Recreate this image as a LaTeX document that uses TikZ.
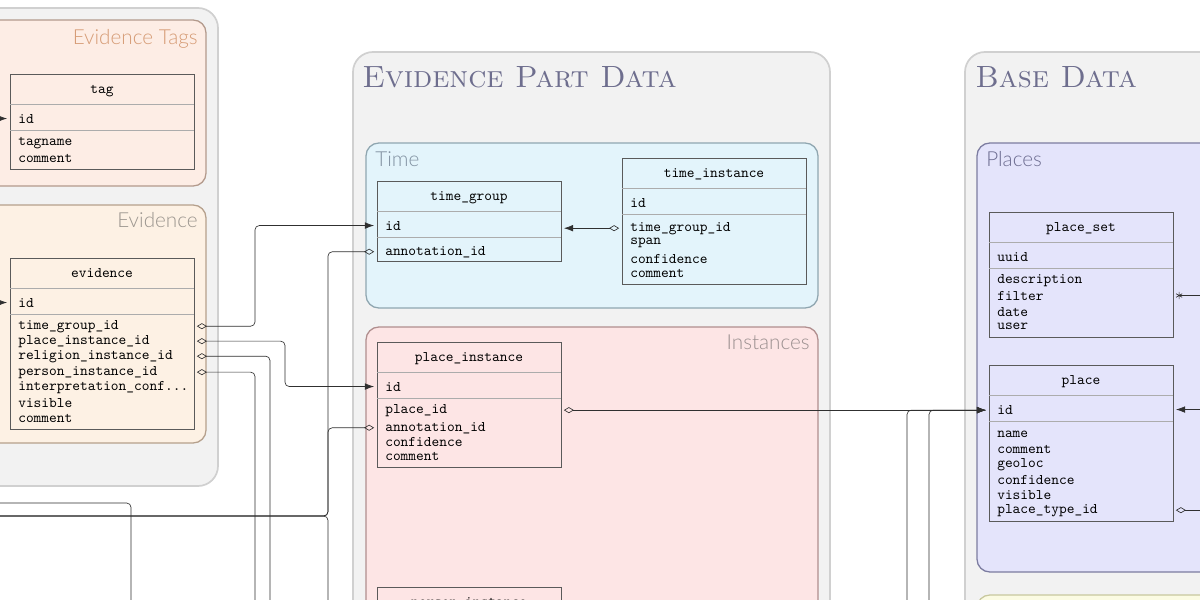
\documentclass[tikz,border=0pt]{standalone}
\usepackage{fontspec}
\newfontfamily\titlefont{Lato Light}
\usetikzlibrary{arrows.meta}
\definecolor{grpfill}{HTML}{F2F2F2}
\definecolor{grpline}{HTML}{D0D0D0}
\definecolor{tagfill}{HTML}{FDEDE5}
\definecolor{tagline}{HTML}{B39A8C}
\definecolor{evfill}{HTML}{FDF1E4}
\definecolor{evline}{HTML}{B5A08C}
\definecolor{timefill}{HTML}{E3F4FB}
\definecolor{timeline}{HTML}{8FA6B0}
\definecolor{instfill}{HTML}{FDE5E5}
\definecolor{instline}{HTML}{B08E8E}
\definecolor{placefill}{HTML}{E4E4FB}
\definecolor{placeline}{HTML}{7C7CA0}
\definecolor{yelfill}{HTML}{FBFBE3}
\definecolor{yelline}{HTML}{C8C89E}
\definecolor{tagtitle}{HTML}{D69C76}
\definecolor{evtitle}{HTML}{9C968F}
\definecolor{timetitle}{HTML}{8292A2}
\definecolor{insttitle}{HTML}{9C9090}
\definecolor{placetitle}{HTML}{6E6E92}
\definecolor{bigtitlec}{HTML}{6E6E8E}
\definecolor{tblline}{HTML}{5A5A5A}
\definecolor{conn}{HTML}{303030}
\newcommand\dbtable[7]{%
  \node[tblbox, fill=#7, minimum height={(#4-#3)*0.7pt}, anchor=north west] (#1) at (#2,#3) {};
  \draw[sepline] (#2,#3+30) -- ++(184,0);
  \draw[sepline] (#2,#3+56) -- ++(184,0);
  \node[tblhead, anchor=base] (#1-h) at (#2+92,#3+19) {#5};
  \node[fldtext] (#1-id) at (#2+8,#3+49) {#6};
}
\newcommand\fld[4]{\node[fldtext] (#1) at (#2,#3) {#4};}
\begin{document}
\begin{tikzpicture}[x=0.7pt,y=-0.7pt,
  outergrp/.style={fill=grpfill, draw=grpline, line width=1.2pt, rounded corners=14pt},
  subgrp/.style={line width=0.9pt, rounded corners=9pt},
  tblbox/.style={draw=tblline, line width=0.6pt, minimum width=184*0.7pt, inner sep=0pt, outer sep=0pt},
  sepline/.style={draw=tblline!50, line width=0.7pt},
  tblhead/.style={font=\ttfamily\fontsize{10.3}{12}\selectfont, inner sep=0pt},
  fldtext/.style={font=\ttfamily\fontsize{10.3}{12}\selectfont, inner sep=0pt, anchor=base west},
  grptitle/.style={font=\titlefont\fontsize{14.5}{17}\selectfont, inner sep=0pt},
  bigtitle/.style={font=\rmfamily\scshape\fontsize{21.5}{25}\selectfont, text=bigtitlec, inner sep=0pt, anchor=base west},
  fk/.style={draw=conn, line width=0.45pt, rounded corners=3pt,
    {Diamond[open,length=7pt,width=4.2pt]}-{Latex[length=6.5pt,width=4.6pt]},
    shorten <=2pt, shorten >=2pt},
  fkstar/.style={draw=conn, line width=0.45pt,
    {Rays[n=6,length=5pt]}-{Latex[length=6.5pt,width=4.6pt]},
    shorten <=2pt, shorten >=2pt}
]
\useasboundingbox (0,0) rectangle (1200,600);
\clip (0,0) rectangle (1200,600);
\fill[white] (0,0) rectangle (1200,600);

% ---------- groups ----------
\draw[outergrp] (-40,8) rectangle (218,486);
\draw[subgrp, fill=tagfill, draw=tagline] (-30,20) rectangle (206,186);
\draw[subgrp, fill=evfill, draw=evline] (-30,205) rectangle (206,443);

\draw[outergrp] (353,52) rectangle (830,760);
\draw[subgrp, fill=timefill, draw=timeline] (366,143) rectangle (818,308);
\draw[subgrp, fill=instfill, draw=instline] (366,327) rectangle (818,760);

\draw[outergrp] (965,52) rectangle (1300,760);
\draw[subgrp, fill=placefill, draw=placeline] (977,143) rectangle (1260,572);
\draw[subgrp, fill=yelfill, draw=yelline] (977,595) rectangle (1260,760);

% ---------- titles ----------
\node[grptitle, text=tagtitle, anchor=base east] (t-tags) at (198,44.5) {Evidence Tags};
\node[grptitle, text=evtitle, anchor=base east] (t-ev) at (198,227) {Evidence};
\node[grptitle, text=timetitle, anchor=base west] (t-time) at (375,166) {Time};
\node[grptitle, text=insttitle, anchor=base east] (t-inst) at (810,349) {Instances};
\node[grptitle, text=placetitle, anchor=base west] (t-places) at (986,166) {Places};
\node[bigtitle] (t-epd) at (362,87) {Evidence Part Data};
\node[bigtitle] (t-base) at (975,87) {Base Data};

% ---------- tables ----------
\dbtable{tag}{10}{74}{169}{tag}{id}{tagfill}
\fld{tag-f1}{18}{145}{tagname}
\fld{tag-f2}{18}{162}{comment}

\dbtable{ev}{10}{258}{429}{evidence}{id}{evfill}
\fld{ev-f1}{18}{329}{time\_group\_id}
\fld{ev-f2}{18}{344}{place\_instance\_id}
\fld{ev-f3}{18}{359}{religion\_instance\_id}
\fld{ev-f4}{18}{375}{person\_instance\_id}
\fld{ev-f5}{18}{390}{interpretation\_conf...}
\fld{ev-f6}{18}{407}{visible}
\fld{ev-f7}{18}{422}{comment}

\dbtable{tg}{377}{181}{261}{time\_group}{id}{timefill}
\fld{tg-f1}{385}{255}{annotation\_id}

\dbtable{ti}{622}{158}{284}{time\_instance}{id}{timefill}
\fld{ti-f1}{630}{231}{time\_group\_id}
\fld{ti-f2}{630}{244}{span}
\fld{ti-f3}{630}{263}{confidence}
\fld{ti-f4}{630}{277}{comment}

\dbtable{pi}{377}{342}{467}{place\_instance}{id}{instfill}
\fld{pi-f1}{385}{413}{place\_id}
\fld{pi-f2}{385}{431}{annotation\_id}
\fld{pi-f3}{385}{446}{confidence}
\fld{pi-f4}{385}{460}{comment}

\dbtable{pei}{377}{587}{760}{person\_instance}{id}{instfill}

\dbtable{ps}{989}{212}{337}{place\_set}{uuid}{placefill}
\fld{ps-f1}{997}{283}{description}
\fld{ps-f2}{997}{300}{filter}
\fld{ps-f3}{997}{316}{date}
\fld{ps-f4}{997}{329}{user}

\dbtable{pl}{989}{365}{521}{place}{id}{placefill}
\fld{pl-f1}{997}{437}{name}
\fld{pl-f2}{997}{453}{comment}
\fld{pl-f3}{997}{467}{geoloc}
\fld{pl-f4}{997}{484}{confidence}
\fld{pl-f5}{997}{499}{visible}
\fld{pl-f6}{997}{513}{place\_type\_id}

% ---------- helper coordinates ----------
\coordinate (L) at (-40,0);
\coordinate (R) at (1260,0);
\coordinate (B) at (0,680);
\coordinate (cA) at (255,0);
\coordinate (cB) at (285,0);
\coordinate (cC) at (270,0);
\coordinate (cD) at (328,0);
\coordinate (cE) at (131,0);
\coordinate (cF) at (907,0);
\coordinate (cG) at (929,0);
\coordinate (annY) at (0,516);
\coordinate (y503) at (0,503);

% ---------- connectors ----------
\draw[fk] (L |- tag-id) -- (tag-id -| tag.west);
\draw[fk] (L |- ev-id) -- (ev-id -| ev.west);

\draw[fk] (ev-f1 -| ev.east) -| (cA |- tg-id) -- (tg-id -| tg.west);
\draw[fk] (ev-f2 -| ev.east) -| (cB |- pi-id) -- (pi-id -| pi.west);
\draw[fk] (ev-f3 -| ev.east) -| (cC |- B);
\draw[fk] (ev-f4 -| ev.east) -| (cA |- B);

\draw[fk] (tg-f1 -| tg.west) -| (cD |- annY) -- (L |- annY);
\draw[fk] (pi-f2 -| pi.west) -| (cD |- annY) -- (L |- annY);
\draw[fk] (cD |- B) -- (cD |- annY) -- (L |- annY);
\draw[fk] (L |- y503) -| (cE |- B);

\draw[fk] (ti-f1 -| ti.west) -- (ti-f1 -| tg.east);

\draw[fk] (pi-f1 -| pi.east) -- (pi-f1 -| pl.west);
\draw[fk] (cF |- B) |- (pi-f1 -| pl.west);
\draw[fk] (cG |- B) |- (pi-f1 -| pl.west);

\draw[fkstar] (ps-f2 -| ps.east) -- (R |- ps-f2);
\draw[fk] (R |- pl-id) -- (pl-id -| pl.east);
\draw[fk] (pl-f6 -| pl.east) -- (R |- pl-f6);
\end{tikzpicture}
\end{document}
